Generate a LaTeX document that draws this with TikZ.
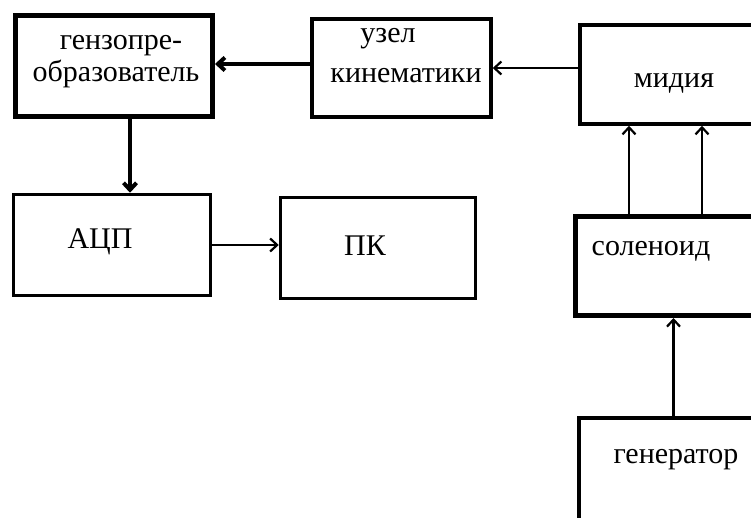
\documentclass[tikz,border=0pt]{standalone}
\usepackage{fontspec}
\setmainfont{Liberation Serif}
\usepackage{tikz}
\usetikzlibrary{positioning,shapes,arrows,arrows.meta}
\tikzstyle{block} = [draw, rectangle, line width=3.5pt]
\tikzstyle{heavy} = [draw, rectangle, line width=5pt]
\tikzstyle{txt} = [anchor=base, inner sep=0pt, font=\rmfamily\fontsize{30}{34}\selectfont]
\tikzstyle{thinline} = [line width=2.2pt]
\tikzstyle{boldline} = [line width=4pt]

\begin{document}
\begin{tikzpicture}[->,>={Straight Barb[length=7pt,width=13pt]},x=1pt,y=-1pt]
		\clip (0,0) rectangle (751,518);
		\fill[white] (0,0) rectangle (751,518);
		% boxes
		\node (gzp) [heavy, minimum width=197pt, minimum height=101pt] at (114,66) {};
		\node (uzel) [block, minimum width=179pt, minimum height=98pt] at (401.5,68) {};
		\node (midia) [block, minimum width=220pt, minimum height=99pt] at (690,74.5) {};
		\node (adc) [block, minimum width=197pt, minimum height=101pt] at (112,245) {};
		\node (pc) [block, minimum width=195pt, minimum height=101pt] at (378,248) {};
		\node (sol) [heavy, minimum width=225pt, minimum height=99pt] at (688,266) {};
		\node (genr) [block, minimum width=221pt, minimum height=202pt] at (689.5,519) {};
		% texts
		\node (gzp1) [txt] at (121,50) {гензопре-};
		\node (gzp2) [txt] at (116,82) {образователь};
		\node (uzel1) [txt] at (388,43) {узел};
		\node (uzel2) [txt] at (406,83) {кинематики};
		\node (midiat) [txt] at (674,88) {мидия};
		\node (adct) [txt] at (100,249) {АЦП};
		\node (pct) [txt] at (365,255) {ПК};
		\node (solt) [txt] at (651,256) {соленоид};
		\node (genrt) [txt] at (676,463) {генератор};
		% arrows
		\draw[thinline] (uzel.east -| midia.west) -- (uzel.east);
		\draw[boldline] ([yshift=4pt]uzel.west) -- ([yshift=4pt]uzel.west -| gzp.east);
		\draw[boldline] ([xshift=16pt]gzp.south) -- ([xshift=16pt]gzp.south |- adc.north);
		\draw[thinline] (adc.east) -- (adc.east -| pc.west);
		\draw[thinline] ([xshift=-59pt]sol.north) -- ([xshift=-59pt]sol.north |- midia.south);
		\draw[thinline] ([xshift=14pt]sol.north) -- ([xshift=14pt]sol.north |- midia.south);
		\draw[thinline] ([xshift=-16pt]genr.north) -- ([xshift=-16pt]genr.north |- sol.south);
	\end{tikzpicture}
\end{document}
